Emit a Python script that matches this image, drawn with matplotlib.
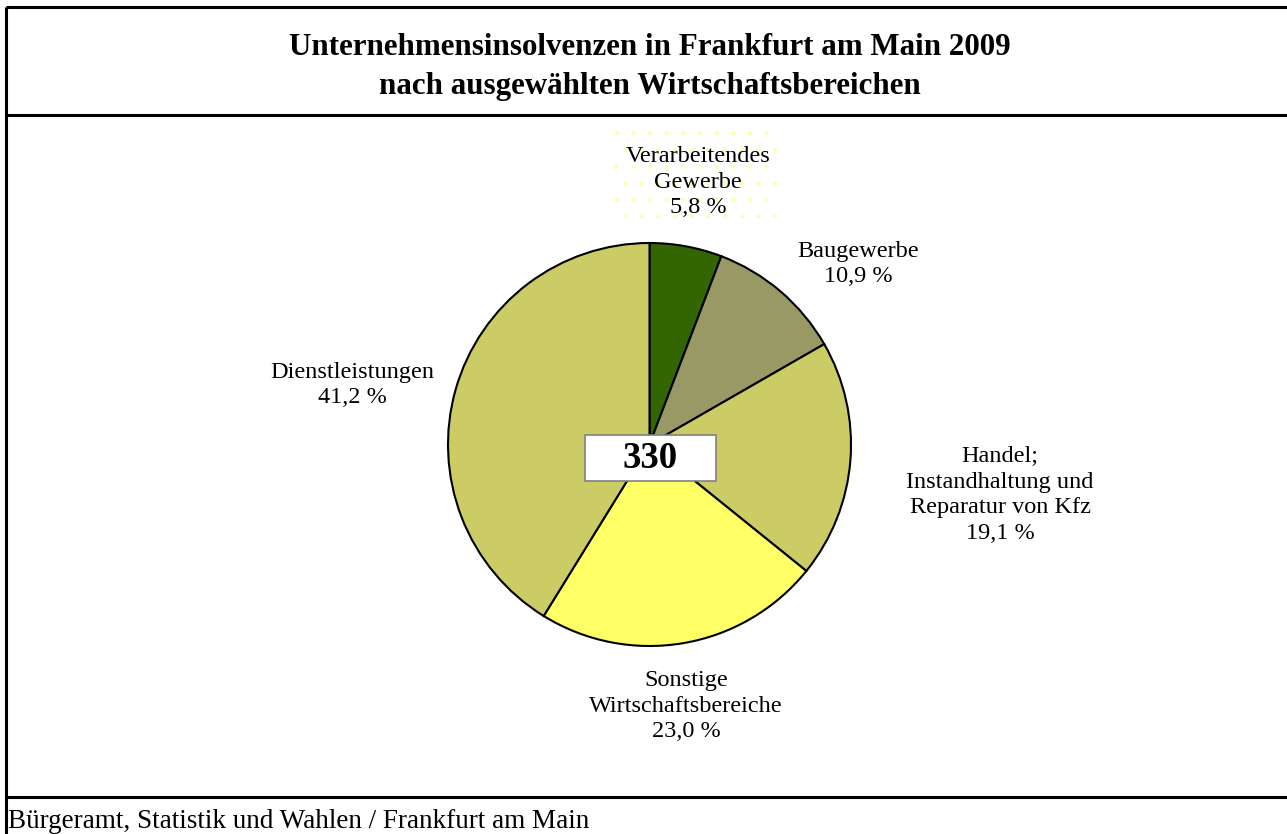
import matplotlib
matplotlib.use("Agg")
import matplotlib.pyplot as plt
from matplotlib.patches import Rectangle
from matplotlib.lines import Line2D

title = "Unternehmensinsolvenzen in Frankfurt am Main 2009\nnach ausgewählten Wirtschaftsbereichen"
categories = ["Verarbeitendes\nGewerbe", "Baugewerbe",
              "Handel;\nInstandhaltung und\nReparatur von Kfz",
              "Sonstige\nWirtschaftsbereiche", "Dienstleistungen"]
shares = [5.8, 10.9, 19.1, 23.0, 41.2]
colors = ["#336600", "#999966", "#CCCC66", "#FFFF66", "#CCCC66"]
total = 330
source = "Bürgeramt, Statistik und Wahlen / Frankfurt am Main"

plt.rcParams["hatch.linewidth"] = 0.6

W, H = 1287, 834
fig = plt.figure(figsize=(W / 100, H / 100), dpi=100)
ax = fig.add_axes([0, 0, 1, 1])

def Y(y):
    return H - y

FONT = "Liberation Serif"

# pie
cx, cy, r = 649.5, 444.5, 201.5
ax.pie(shares, colors=colors, startangle=90, counterclock=False, center=(cx, Y(cy)), radius=r,
       wedgeprops=dict(edgecolor="black", linewidth=1.5), frame=True)
ax.set_xlim(0, W)
ax.set_ylim(0, H)
ax.set_aspect("equal")
ax.axis("off")

# frame
for (x0, y0, x1, y1) in [(6, 7, W + 5, 7), (6, 115, W + 5, 115), (6, 797, W + 5, 797), (6, 7, 6, H + 5)]:
    ax.add_line(Line2D([x0, x1], [Y(y0), Y(y1)], color="black", lw=2.2, solid_capstyle="butt"))

ax.text(650, Y(67), title, ha="center", va="center", fontsize=22.3, fontweight="bold",
        family=FONT, linespacing=1.48)

# dotted background for first label
ax.add_patch(Rectangle((612, Y(218)), 170, 88, fill=False, hatch=".", edgecolor="#FFFFAA", lw=0))

label_pos = [(698, 182), (858, 264), (1000, 495), (686, 706), (352, 385)]
for cat, s, (x, y) in zip(categories, shares, label_pos):
    txt = cat + "\n" + f"{s:.1f}".replace(".", ",") + " %"
    ax.text(x, Y(y), txt, ha="center", va="center", multialignment="center",
            fontsize=17.5, family=FONT, linespacing=1.31)

# total box
ax.add_patch(Rectangle((585, Y(481)), 131, 46, facecolor="white", edgecolor="#808080", lw=1.2, zorder=5))
ax.text(650.5, Y(458), str(total), ha="center", va="center", fontsize=26.5, fontweight="bold",
        family=FONT, zorder=6)

ax.text(8, Y(822), source, ha="left", va="center", fontsize=19.5, family=FONT)

fig.savefig("out.png", dpi=100)
